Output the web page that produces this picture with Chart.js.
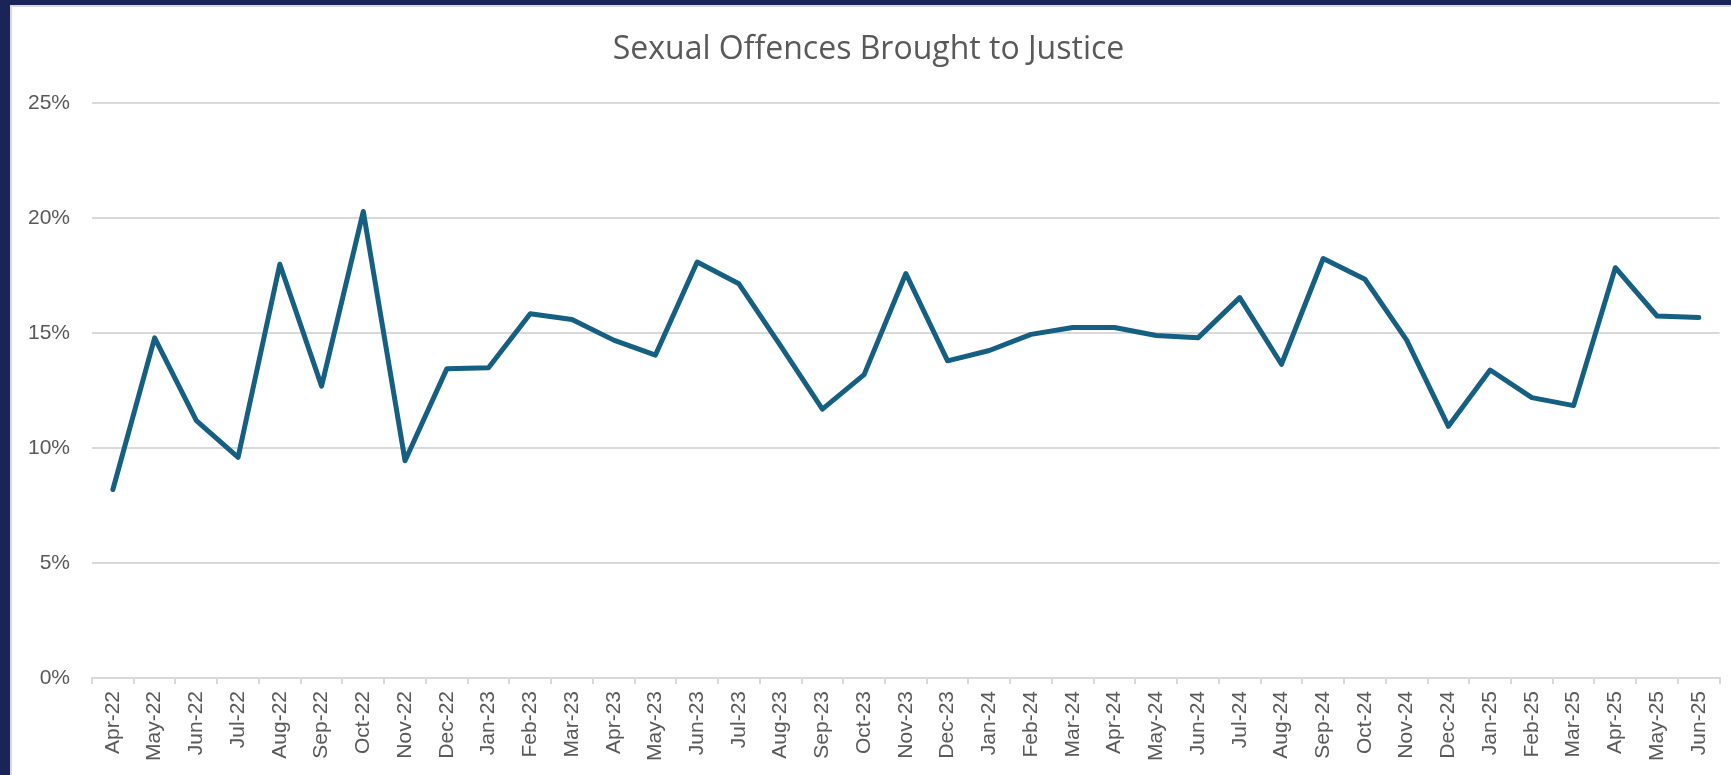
<!DOCTYPE html>
<html>
<head>
<meta charset="utf-8">
<title>Sexual Offences Brought to Justice</title>
<script src="https://cdn.jsdelivr.net/npm/chart.js@4"></script>
<style>
    html, body { margin: 0; padding: 0; background: #1a2456; overflow: hidden; }
    #frame {
        position: absolute; left: 10px; top: 5px;
        width: 1719px; height: 768px;
        background: #ffffff;
        border-left: 2px solid #d9d9d9;
        border-top: 2px solid #d9d9d9;
    }
    canvas { display: block; }
</style>
</head>
<body>
<div id="frame"><canvas id="sotjChart" width="1719" height="768"></canvas></div>
<script>
// 月ラベル
var months = [
    'Apr-22', 'May-22', 'Jun-22', 'Jul-22', 'Aug-22', 'Sep-22', 'Oct-22', 'Nov-22', 'Dec-22',
    'Jan-23', 'Feb-23', 'Mar-23', 'Apr-23', 'May-23', 'Jun-23', 'Jul-23', 'Aug-23', 'Sep-23', 'Oct-23', 'Nov-23', 'Dec-23',
    'Jan-24', 'Feb-24', 'Mar-24', 'Apr-24', 'May-24', 'Jun-24', 'Jul-24', 'Aug-24', 'Sep-24', 'Oct-24', 'Nov-24', 'Dec-24',
    'Jan-25', 'Feb-25', 'Mar-25', 'Apr-25', 'May-25', 'Jun-25'
];

// 割合 (%)
var justiceRate = [
    8.2, 14.8, 11.2, 9.6, 18.0, 12.7, 20.3, 9.45, 13.45,
    13.5, 15.85, 15.6, 14.7, 14.05, 18.1, 17.15, 14.45, 11.7, 13.2, 17.6, 13.8,
    14.25, 14.95, 15.25, 15.25, 14.9, 14.8, 16.55, 13.65, 18.25, 17.35, 14.7, 10.95,
    13.4, 12.2, 11.85, 17.85, 15.75, 15.68
];

// 軸の目盛り
var yTicks = [0, 5, 10, 15, 20, 25];

var textColor = '#595959';
var lineColor = '#d9d9d9';

var sotjChart;

document.addEventListener('DOMContentLoaded', function () {
    var ctx = document.getElementById('sotjChart').getContext('2d');
    sotjChart = new Chart(ctx, {
        type: 'line',
        data: {
            labels: months,
            datasets: [{
                label: 'Sexual Offences Brought to Justice',
                data: justiceRate,
                borderColor: '#156082',
                backgroundColor: '#156082',
                borderWidth: 5,
                pointRadius: 0,
                tension: 0,
                borderJoinStyle: 'round',
                borderCapStyle: 'round'
            }]
        },
        options: {
            responsive: false,
            animation: false,
            layout: {
                padding: { left: -6, right: 0, top: 0, bottom: 7 }
            },
            scales: {
                x: {
                    offset: true,
                    grid: {
                        offset: true,
                        drawOnChartArea: false,
                        drawTicks: true,
                        tickLength: 6,
                        color: lineColor,
                        lineWidth: 2
                    },
                    border: { display: true, color: lineColor, width: 2 },
                    ticks: {
                        autoSkip: false,
                        maxRotation: 90,
                        minRotation: 90,
                        padding: 7,
                        color: textColor,
                        font: { family: 'Liberation Sans', size: 21 }
                    }
                },
                y: {
                    min: 0,
                    max: 25,
                    afterBuildTicks: function (axis) {
                        axis.ticks = yTicks.map(function (v) { return { value: v }; });
                    },
                    grid: {
                        color: lineColor,
                        lineWidth: 2,
                        drawTicks: false
                    },
                    border: { display: false },
                    ticks: {
                        padding: 22,
                        color: textColor,
                        font: { family: 'Liberation Sans', size: 21 },
                        callback: function (v) { return v + '%'; }
                    }
                }
            },
            plugins: {
                legend: { display: false },
                tooltip: { enabled: false },
                title: {
                    display: true,
                    text: 'Sexual Offences Brought to Justice',
                    color: textColor,
                    font: { family: 'Open Sans', size: 32, weight: 'normal' },
                    padding: { top: 24, bottom: 34 }
                }
            }
        }
    });
});
</script>
</body>
</html>
